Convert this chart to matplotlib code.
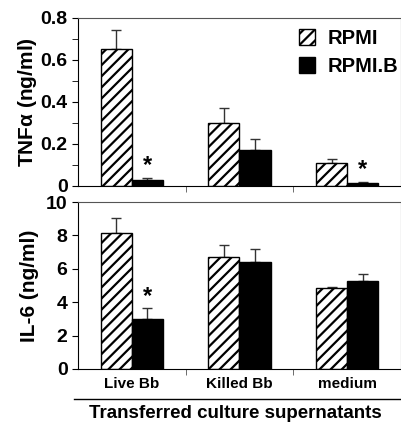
import numpy as np
import matplotlib
matplotlib.use("Agg")
import matplotlib.pyplot as plt
from matplotlib.lines import Line2D

plt.rcParams['font.family'] = ['Liberation Sans', 'DejaVu Sans']
plt.rcParams['font.weight'] = 'bold'
plt.rcParams['hatch.linewidth'] = 1.6

groups = ['Live Bb', 'Killed Bb', 'medium']
series = ['RPMI', 'RPMI.B']

tnf_rpmi = [0.65, 0.30, 0.108]
tnf_rpmi_err = [0.095, 0.07, 0.022]
tnf_rpmib = [0.03, 0.17, 0.015]
tnf_rpmib_err = [0.01, 0.052, 0.005]

il6_rpmi = [8.13, 6.69, 4.87]
il6_rpmi_err = [0.93, 0.74, 0.05]
il6_rpmib = [2.97, 6.41, 5.25]
il6_rpmib_err = [0.66, 0.76, 0.42]

tnf_stars = [True, False, True]
il6_stars = [True, False, False]

fig = plt.figure(figsize=(4.02, 4.25), dpi=100)
ax1 = fig.add_axes([0.194, 0.5624, 0.8035, 0.3953])
ax2 = fig.add_axes([0.194, 0.1318, 0.8035, 0.3929])

x = np.arange(len(groups))
w = 0.29


def draw(ax, a, ae, b, be, stars, ymax, major, minor, ylabel, star_off):
    ax.bar(x - w / 2, a, w, color='white', edgecolor='black', hatch='///',
           linewidth=1, label=series[0], zorder=2)
    ax.bar(x + w / 2, b, w, color='black', edgecolor='black',
           linewidth=1, label=series[1], zorder=2)
    ax.errorbar(x - w / 2, a, yerr=[np.zeros(3), ae], fmt='none',
                ecolor='#333333', elinewidth=1, capsize=3.5, capthick=1, zorder=1)
    ax.errorbar(x + w / 2, b, yerr=[np.zeros(3), be], fmt='none',
                ecolor='#333333', elinewidth=1, capsize=3.5, capthick=1, zorder=1)
    for i, s in enumerate(stars):
        if s:
            ax.text(x[i] + w / 2, b[i] + be[i] + star_off, '*', ha='center',
                    va='bottom', fontsize=17, fontweight='bold')
    ax.set_xlim(-0.5, 2.5)
    ax.set_ylim(0, ymax)
    ax.set_yticks(major)
    ax.set_yticks(minor, minor=True)
    ax.set_xticks(x)
    ax.set_xticks([0.5, 1.5, 2.5], minor=True)
    ax.tick_params(axis='x', which='major', length=0, pad=6)
    ax.tick_params(axis='x', which='minor', length=4, direction='out', color='#555555')
    ax.tick_params(axis='y', which='both', length=4, direction='out', labelsize=14)
    ax.set_ylabel(ylabel, fontsize=15, fontweight='bold')
    ax.yaxis.set_label_coords(-0.122, 0.5)
    for sp in ['top', 'right']:
        ax.spines[sp].set_color('#555555')
    for sp in ['left', 'bottom']:
        ax.spines[sp].set_color('black')


draw(ax1, tnf_rpmi, tnf_rpmi_err, tnf_rpmib, tnf_rpmib_err, tnf_stars, 0.8,
     [0, 0.2, 0.4, 0.6, 0.8], [0.1, 0.3, 0.5, 0.7], r'TNF$\mathregular{\alpha}$ (ng/ml)', 0.005)
ax1.set_yticklabels(['0', '0.2', '0.4', '0.6', '0.8'])
ax1.set_xticklabels([])

draw(ax2, il6_rpmi, il6_rpmi_err, il6_rpmib, il6_rpmib_err, il6_stars, 10,
     [0, 2, 4, 6, 8, 10], [], 'IL-6 (ng/ml)', 0.05)
ax2.set_xticklabels(groups, fontsize=11, fontweight='bold')

leg = ax1.legend(loc='upper right', frameon=False, fontsize=14.5,
                 handlelength=0.8, handleheight=0.8, handletextpad=0.6,
                 borderaxespad=0, borderpad=0, labelspacing=0.45,
                 bbox_to_anchor=(0.99, 1 - 29 / 425), bbox_transform=fig.transFigure)

fig.add_artist(Line2D([74 / 402, 1.0], [1 - 399 / 425, 1 - 399 / 425],
                      color='black', linewidth=1))
fig.text(0.585, 1 - 413 / 425, 'Transferred culture supernatants', ha='center',
         va='center', fontsize=13.5, fontweight='bold')

fig.savefig('out.png', dpi=100)
